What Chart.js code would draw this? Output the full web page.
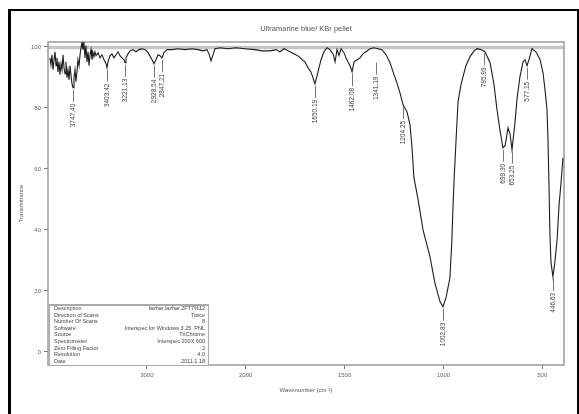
<!DOCTYPE html>
<html>
<head>
<meta charset="utf-8">
<script src="https://cdn.jsdelivr.net/npm/chart.js@4.4.1/dist/chart.umd.min.js"></script>
<style>
  html, body { margin: 0; padding: 0; background: #fff; overflow: hidden; }
  #wrap { position: relative; width: 579px; height: 414px; }
  #frame { position: absolute; left: 8px; top: 9px; width: 566px; height: 420px; border: 2px solid #000; border-left-width: 3px; pointer-events: none; }
  canvas { position: absolute; left: 0; top: 0; }
</style>
</head>
<body>
<div id="wrap">
  <canvas id="spectrum" width="579" height="414"></canvas>
  <div id="frame"></div>
</div>
<script>
const chartTitle = 'Ultramarine blue/ KBr pellet';

// spectrum (cm-1, %T)
const wavenumbers = [
  3980, 3970, 3960, 3949, 3939, 3929, 3919, 3909, 3899, 3889, 3879, 3868, 3858, 3848, 3838, 3828,
  3818, 3808, 3798, 3787, 3777, 3767, 3757, 3747, 3737, 3727, 3717, 3707, 3697, 3686, 3676, 3666,
  3656, 3646, 3636, 3626, 3616, 3605, 3595, 3585, 3575, 3565, 3555, 3545, 3535, 3525, 3514, 3494,
  3474, 3454, 3433, 3413, 3403, 3393, 3373, 3353, 3332, 3312, 3292, 3272, 3251, 3231, 3221, 3211,
  3191, 3170, 3140, 3110, 3079, 3049, 3019, 2988, 2958, 2928, 2908, 2887, 2867, 2847, 2827, 2796,
  2746, 2685, 2614, 2543, 2483, 2432, 2392, 2371, 2351, 2331, 2311, 2260, 2179, 2098, 2007, 1953,
  1918, 1877, 1847, 1827, 1806, 1786, 1766, 1746, 1730, 1715, 1700, 1685, 1670, 1660, 1650, 1639,
  1629, 1619, 1604, 1589, 1574, 1558, 1548, 1538, 1528, 1518, 1503, 1493, 1483, 1472, 1462, 1452,
  1437, 1422, 1407, 1392, 1371, 1351, 1331, 1311, 1290, 1270, 1250, 1235, 1220, 1204, 1184, 1169,
  1159, 1149, 1128, 1103, 1068, 1043, 1017, 1002, 987, 977, 967, 957, 952, 946, 936, 926,
  911, 901, 886, 865, 845, 830, 810, 790, 764, 744, 729, 714, 699, 688, 673, 663,
  653, 638, 628, 613, 597, 587, 577, 567, 552, 532, 511, 496, 486, 476, 471, 466,
  461, 456, 446, 436, 425, 415, 405, 400, 395
];
const transmittance = [
  96.4, 94.1, 97.4, 92.5, 95.8, 98.4, 93.8, 96.4, 91.8, 95.1, 90.9, 94.5, 92.5, 97.4, 93.2, 91.2,
  95.1, 89.9, 92.5, 89.2, 93.8, 90.5, 87.9, 86.6, 89.9, 92.5, 88.6, 91.8, 95.8, 93.8, 97.4, 99.7,
  101.4, 99.1, 101.0, 96.4, 100.4, 95.1, 98.4, 93.8, 97.4, 99.1, 95.8, 98.1, 96.8, 98.4, 97.1, 98.1,
  96.4, 97.4, 95.8, 94.5, 93.2, 95.1, 97.1, 97.7, 96.4, 97.4, 98.4, 97.1, 96.4, 95.8, 94.8, 96.4,
  97.7, 98.7, 99.1, 98.4, 99.1, 99.4, 99.1, 98.1, 96.4, 94.5, 95.8, 97.4, 97.1, 96.4, 98.1, 99.1,
  99.1, 99.4, 99.1, 99.4, 99.1, 98.7, 99.1, 97.7, 95.4, 97.4, 99.4, 99.7, 99.4, 99.7, 99.4, 99.1,
  98.7, 98.7, 99.1, 98.4, 99.4, 98.7, 98.1, 97.4, 96.8, 95.8, 95.1, 93.2, 91.8, 89.9, 87.9, 90.5,
  93.2, 95.8, 98.4, 99.7, 99.1, 97.7, 95.1, 99.1, 97.1, 99.4, 98.1, 96.4, 95.1, 93.8, 91.8, 95.1,
  95.8, 96.4, 97.7, 98.4, 99.4, 99.7, 99.4, 99.1, 97.4, 94.8, 90.9, 88.2, 85.0, 81.0, 78.7, 74.5,
  67.2, 57.1, 49.9, 40.0, 31.2, 22.6, 16.4, 14.8, 17.7, 21.0, 24.3, 36.7, 46.6, 56.4, 69.5, 82.0,
  87.6, 90.2, 93.8, 96.8, 98.7, 99.4, 99.1, 98.4, 94.8, 87.6, 79.4, 72.8, 66.9, 67.6, 73.5, 71.5,
  66.3, 75.1, 82.7, 90.2, 95.1, 95.8, 93.8, 95.8, 99.4, 98.4, 95.8, 91.5, 85.9, 79.4, 69.5, 54.8,
  38.4, 29.5, 24.6, 29.5, 36.7, 48.2, 55.4, 59.7, 63.6
];

const xTickValues = [3000, 2000, 1500, 1000, 500];
const yTickValues = [0, 20, 40, 60, 80, 100];

// peak picks
const peakWn = [3747, 3403, 3221, 2928, 2847, 1650, 1462, 1341, 1204, 1002, 795, 699, 653, 577, 446];
const peakT = [86.6, 93.2, 94.8, 94.5, 96.4, 87.9, 91.8, 95.5, 81.0, 14.8, 98.5, 66.9, 66.3, 93.8, 24.6];
const peakLabels = ['3747.40', '3403.42', '3221.13', '2928.54', '2847.21', '1650.19', '1462.08', '1341.19',
  '1204.25', '1002.83', '795.99', '699.30', '653.25', '577.15', '446.63'];

// acquisition info table
const infoKeys = ['Description', 'Direction of Scans', 'Number Of Scans', 'Software', 'Source',
  'Spectrometer', 'Zero Filling Factor', 'Resolution', 'Date'];
const infoValues = ['lazhar.lazhar.2FT7%12', 'Twice', '8', 'Interspec for Windows 3.25  PNL', 'TriChrome',
  'Interspec 200X 600', '2', '4.0', '2011.1.18'];

const FONT = "'Liberation Sans', Arial, sans-serif";

// x axis is split at 2000 cm-1: 4000-2000 is drawn at half the scale of 2000-400
function wnToPos(w) { return w >= 2000 ? (4000 - w) / 2 : 3000 - w; }
function posToWn(p) { return p <= 1000 ? 4000 - 2 * p : 3000 - p; }

const decorPlugin = {
  id: 'decor',
  beforeDatasetsDraw(chart) {
    const { ctx, chartArea: a, scales } = chart;
    ctx.save();
    // 100 % reference line
    const y100 = scales.y.getPixelForValue(100) + 0.5;
    ctx.strokeStyle = '#c6c6c6';
    ctx.lineWidth = 3.5;
    ctx.beginPath();
    ctx.moveTo(a.left, y100);
    ctx.lineTo(a.right, y100);
    ctx.stroke();
    // plot frame
    ctx.strokeStyle = '#9a9a9a';
    ctx.lineWidth = 1.5;
    ctx.strokeRect(a.left, a.top, a.right - a.left, a.bottom - a.top);
    ctx.restore();
  },
  afterDatasetsDraw(chart) {
    const { ctx, chartArea: a, scales } = chart;
    ctx.save();
    // peak labels
    ctx.strokeStyle = '#555';
    ctx.fillStyle = '#444';
    ctx.lineWidth = 0.8;
    ctx.font = '6.5px ' + FONT;
    peakWn.forEach((w, i) => {
      const px = Math.round(scales.x.getPixelForValue(wnToPos(w))) + 0.5;
      const py = scales.y.getPixelForValue(peakT[i]);
      ctx.beginPath();
      ctx.moveTo(px, py + 2);
      ctx.lineTo(px, py + 14);
      ctx.stroke();
      ctx.save();
      ctx.translate(px, py + 16);
      ctx.rotate(-Math.PI / 2);
      ctx.textAlign = 'right';
      ctx.textBaseline = 'middle';
      ctx.fillText(peakLabels[i], 0, 0);
      ctx.restore();
    });

    // info table, bottom left of the plot
    const bx = a.left + 1, by = 304, bw = 159, bh = a.bottom - 304;
    ctx.fillStyle = '#fff';
    ctx.fillRect(bx, by, bw, bh);
    ctx.strokeStyle = '#aaa';
    ctx.lineWidth = 1;
    ctx.strokeRect(bx + 0.5, by + 0.5, bw, bh);
    ctx.lineWidth = 2;
    ctx.beginPath();
    ctx.moveTo(bx, by + 1);
    ctx.lineTo(bx + bw, by + 1);
    ctx.stroke();
    ctx.font = '5.5px ' + FONT;
    ctx.fillStyle = '#444';
    ctx.textBaseline = 'middle';
    infoKeys.forEach((k, i) => {
      const ty = by + 4.5 + i * 6.6;
      ctx.textAlign = 'left';
      ctx.fillText(k, bx + 5, ty);
      ctx.textAlign = 'right';
      ctx.fillText(infoValues[i], bx + bw - 3, ty);
    });

    // chart title
    ctx.font = '7.5px ' + FONT;
    ctx.fillStyle = '#555';
    ctx.textAlign = 'center';
    ctx.fillText(chartTitle, (a.left + a.right) / 2, 29);
    ctx.restore();
  }
};

const ctx = document.getElementById('spectrum').getContext('2d');
new Chart(ctx, {
  type: 'line',
  data: {
    datasets: [{
      data: wavenumbers.map((w, i) => ({ x: wnToPos(w), y: transmittance[i] })),
      borderColor: '#1c1c1c',
      borderWidth: 1.1,
      pointRadius: 0,
      tension: 0,
      fill: false
    }]
  },
  options: {
    responsive: false,
    animation: false,
    devicePixelRatio: 1,
    layout: { padding: { left: 0, top: 42, right: 15, bottom: 0 } },
    plugins: { legend: { display: false }, tooltip: { enabled: false }, title: { display: false } },
    scales: {
      x: {
        type: 'linear',
        min: 0,
        max: 2610,
        afterFit: s => { s.height = 49; },
        afterBuildTicks: s => { s.ticks = xTickValues.map(v => ({ value: wnToPos(v) })); },
        ticks: {
          callback: v => String(posToWn(v)),
          font: { family: FONT, size: 6 },
          color: '#666',
          padding: 3,
          maxRotation: 0,
          autoSkip: false
        },
        grid: { drawOnChartArea: false, drawTicks: true, tickLength: 4, color: '#777' },
        border: { display: false },
        title: {
          display: true,
          text: 'Wavenumber (cm⁻¹)',
          font: { family: FONT, size: 6 },
          color: '#555',
          padding: { top: 0, bottom: 20 }
        }
      },
      y: {
        type: 'linear',
        min: -4.3,
        max: 101.6,
        afterFit: s => { s.width = 48; },
        afterBuildTicks: s => { s.ticks = yTickValues.map(v => ({ value: v })); },
        ticks: {
          font: { family: FONT, size: 6 },
          color: '#666',
          padding: 3
        },
        grid: { drawOnChartArea: false, drawTicks: true, tickLength: 4, color: '#777' },
        border: { display: false },
        title: {
          display: true,
          text: 'Transmittance',
          font: { family: FONT, size: 6 },
          color: '#555',
          padding: { top: 18, bottom: 0 }
        }
      }
    }
  },
  plugins: [decorPlugin]
});
</script>
</body>
</html>
